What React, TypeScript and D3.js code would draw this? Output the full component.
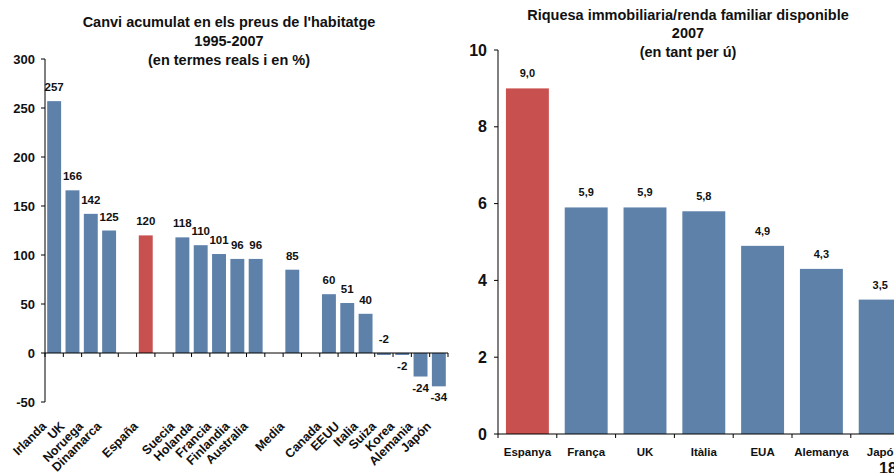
import React from "react";
import * as d3 from "d3";

// left chart: cumulative house price change 1995-2007 (blank slots are gaps)
const priceCats = ["Irlanda", "UK", "Noruega", "Dinamarca", "", "España", "", "Suecia", "Holanda", "Francia", "Finlandia", "Australia", "", "Media", "", "Canada", "EEUU", "Italia", "Suiza", "Korea", "Alemania", "Japón"];
const priceVals = [257, 166, 142, 125, null, 120, null, 118, 110, 101, 96, 96, null, 85, null, 60, 51, 40, -2, -2, -24, -34];
const priceTicks = [-50, 0, 50, 100, 150, 200, 250, 300];
const priceTitle = ["Canvi acumulat en els preus de l'habitatge", "1995-2007", "(en termes reals i en %)"];

// right chart: housing wealth / disposable income 2007
const wealthCats = ["Espanya", "França", "UK", "Itàlia", "EUA", "Alemanya", "Japó"];
const wealthVals = [9.0, 5.9, 5.9, 5.8, 4.9, 4.3, 3.5];
const wealthTicks = [0, 2, 4, 6, 8, 10];
const wealthTitle = ["Riquesa immobiliaria/renda familiar disponible", "2007", "(en tant per ú)"];

const BLUE = "#5e81aa";
const RED = "#c8504f";
const FONT = "'Liberation Sans', Arial, sans-serif";

const App = () => {
  // ---- left
  const lx = d3.scaleBand<number>()
    .domain(d3.range(priceCats.length))
    .range([45, 448])
    .paddingInner(0.24)
    .paddingOuter(0.12);
  const ly = d3.scaleLinear().domain([-50, 300]).range([402, 59]);
  const lStep = (448 - 45) / priceCats.length;

  // ---- right
  const rx = d3.scaleBand<number>()
    .domain(d3.range(wealthCats.length))
    .range([498, 498 + 58.8 * wealthCats.length])
    .paddingInner(0.27)
    .paddingOuter(0.135);
  const ry = d3.scaleLinear().domain([0, 10]).range([434, 50]);
  const rStep = 58.8;

  const lTitleY = [27, 46, 64.5];
  const rTitleY = [19.5, 37.5, 56.5];

  return (
    <svg width={894} height={473} style={{ position: "absolute", left: 0, top: 0, background: "#fff" }}
      fontFamily={FONT} fontWeight="bold">
      {/* left title */}
      {priceTitle.map((t, i) => (
        <text key={"lt" + i} x={229} y={lTitleY[i]} textAnchor="middle" fontSize={14.5} fill="#111">{t}</text>
      ))}

      {/* left bars */}
      {priceVals.map((v, i) => {
        if (v === null) return null;
        const y0 = ly(0), y1 = ly(v);
        return (
          <rect key={"lb" + i} x={lx(i)} width={lx.bandwidth()} y={Math.min(y0, y1)} height={Math.abs(y1 - y0)}
            fill={priceCats[i] === "España" ? RED : BLUE} />
        );
      })}

      {/* left value labels */}
      {priceVals.map((v, i) => {
        if (v === null) return null;
        const cx = (lx(i) as number) + lx.bandwidth() / 2;
        // Suiza's label sits above the axis in the original
        const above = v >= 0 || priceCats[i] === "Suiza";
        const y = v >= 0 ? ly(v) - 10 : above ? ly(0) - 10 : ly(v) + 15;
        return (
          <text key={"lv" + i} x={cx} y={y} textAnchor="middle" fontSize={11.5} fill="#111">{v}</text>
        );
      })}

      {/* left y axis */}
      <line x1={45} x2={45} y1={ly(300)} y2={ly(-50)} stroke="#000" />
      {priceTicks.map(t => (
        <g key={"lyt" + t}>
          <line x1={41} x2={45} y1={ly(t)} y2={ly(t)} stroke="#000" />
          <text x={35} y={ly(t) + 4.5} textAnchor="end" fontSize={13} fill="#111">{t}</text>
        </g>
      ))}

      {/* left x axis at zero */}
      <line x1={45} x2={448} y1={ly(0)} y2={ly(0)} stroke="#000" />
      {d3.range(priceCats.length + 1).map(i => (
        <line key={"lxt" + i} x1={45 + i * lStep} x2={45 + i * lStep} y1={ly(0)} y2={ly(0) + 4} stroke="#000" />
      ))}
      {priceCats.map((c, i) => {
        if (!c) return null;
        const cx = (lx(i) as number) + lx.bandwidth() / 2;
        return (
          <text key={"lxl" + i} transform={`translate(${cx - 7},${427}) rotate(-45)`} textAnchor="end"
            fontSize={12.5} fill="#111">{c}</text>
        );
      })}

      {/* right title */}
      {wealthTitle.map((t, i) => (
        <text key={"rt" + i} x={688} y={rTitleY[i]} textAnchor="middle" fontSize={14.5} fill="#111">{t}</text>
      ))}

      {/* right bars */}
      {wealthVals.map((v, i) => (
        <rect key={"rb" + i} x={rx(i)} width={rx.bandwidth()} y={ry(v)} height={ry(0) - ry(v)}
          fill={wealthCats[i] === "Espanya" ? RED : BLUE} />
      ))}
      {wealthVals.map((v, i) => (
        <text key={"rv" + i} x={(rx(i) as number) + rx.bandwidth() / 2} y={ry(v) - 11} textAnchor="middle"
          fontSize={11} fill="#111">{v.toFixed(1).replace(".", ",")}</text>
      ))}

      {/* right y axis */}
      <line x1={498} x2={498} y1={ry(10)} y2={ry(0)} stroke="#000" />
      {wealthTicks.map(t => (
        <g key={"ryt" + t}>
          <line x1={494} x2={498} y1={ry(t)} y2={ry(t)} stroke="#000" />
          <text x={487} y={ry(t) + 5.5} textAnchor="end" fontSize={16} fill="#111">{t}</text>
        </g>
      ))}

      {/* right x axis */}
      <line x1={498} x2={498 + rStep * wealthCats.length} y1={ry(0)} y2={ry(0)} stroke="#000" />
      {d3.range(wealthCats.length + 1).map(i => (
        <line key={"rxt" + i} x1={498 + i * rStep} x2={498 + i * rStep} y1={ry(0)} y2={ry(0) + 4} stroke="#000" />
      ))}
      {wealthCats.map((c, i) => (
        <text key={"rxl" + i} x={(rx(i) as number) + rx.bandwidth() / 2} y={456} textAnchor="middle"
          fontSize={11.5} fill="#111">{c}</text>
      ))}

      {/* page number (cut off at the page edge, as in the original) */}
      <text x={879} y={474} fontSize={16} fill="#111">18</text>
    </svg>
  );
};

export default App;
